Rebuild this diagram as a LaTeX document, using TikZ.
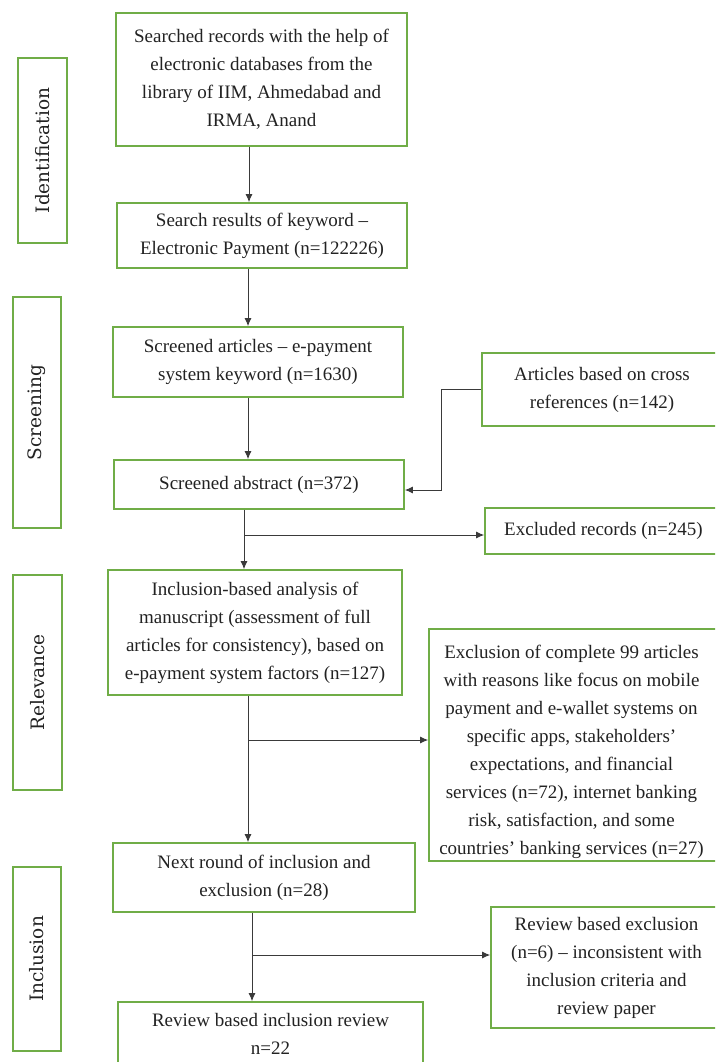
\documentclass[tikz,border=0pt]{standalone}
\usepackage{fontspec}
\setmainfont{Liberation Serif}
\newfontfamily\phasefont{DejaVu Serif}
\usetikzlibrary{arrows.meta,calc}

\definecolor{boxgreen}{HTML}{70AD47}
\definecolor{linegray}{HTML}{3A3A3A}
\definecolor{txt}{HTML}{222222}

\tikzset{
  stagebox/.style={draw=boxgreen, line width=1.6pt, fill=white, align=center,
    text=txt, inner sep=2pt, font=\fontsize{19}{28}\selectfont},
  stagetext/.style={align=center, text=txt, inner sep=0pt, font=\fontsize{19}{28}\selectfont},
  phasebox/.style={draw=boxgreen, line width=1.6pt, fill=white, rotate=90,
    text=txt, inner sep=2pt, font=\phasefont\fontsize{18.5}{22}\selectfont},
  conn/.style={draw=linegray, line width=1pt, -{Latex[length=8pt,width=7pt]}}
}

\begin{document}
\begin{tikzpicture}[x=1pt,y=-1pt]
\clip (0,0) rectangle (715,1062);
\fill[white] (0,0) rectangle (715,1062);

% phase labels on the left
\node[phasebox, minimum width=185pt, minimum height=49pt] (P1) at (42.5,150.5) {Identification};
\node[phasebox, minimum width=231pt, minimum height=48pt] (P2) at (37,412.5) {Screening};
\node[phasebox, minimum width=215pt, minimum height=49pt] (P3) at (37.5,682.5) {Relevance};
\node[phasebox, minimum width=184pt, minimum height=48pt] (P4) at (37,959) {Inclusion};

% main column
\node[stagebox, minimum width=291pt, minimum height=133pt] (A) at (261.5,79.5)
  {Searched records with the help of\\electronic databases from the\\library of IIM, Ahmedabad and\\IRMA, Anand};
\node[stagebox, minimum width=290pt, minimum height=65pt] (B) at (262,235.5)
  {Search results of keyword --\\Electronic Payment (n=122226)};
\node[stagebox, minimum width=290pt, minimum height=70pt] (C) at (258,362)
  {Screened articles -- e-payment\\system keyword (n=1630)};
\node[stagebox, minimum width=290pt, minimum height=49pt] (D) at (259,484.5)
  {Screened abstract (n=372)};
\node[stagebox, minimum width=294pt, minimum height=125pt] (G) at (255,632.5)
  {Inclusion-based analysis of\\manuscript (assessment of full\\articles for consistency), based on\\e-payment system factors (n=127)};
\node[stagebox, minimum width=302pt, minimum height=69pt] (I) at (264,877.5)
  {Next round of inclusion and\\exclusion (n=28)};
\node[stagebox, minimum width=305pt, minimum height=64pt] (K) at (270.5,1034)
  {Review based inclusion review\\n=22};

% side boxes (running off the right edge)
\node[stagebox, minimum width=240pt, minimum height=73pt] (E) at (602,389.5)
  {Articles based on cross\\references (n=142)};
\node[stagebox, minimum width=237pt, minimum height=46pt] (F) at (603.5,531)
  {Excluded records (n=245)};
% the long exclusion list sits low in its frame, its last line on the border
\node[stagebox, minimum width=293pt, minimum height=232pt] (H) at (575.5,745) {};
\node[stagetext] (Ht) at ($(H.center)+(-4,7)$)
  {Exclusion of complete 99 articles\\with reasons like focus on mobile\\payment and e-wallet systems on\\specific apps, stakeholders'\\expectations, and financial\\services (n=72), internet banking\\risk, satisfaction, and some\\countries' banking services (n=27)};
\node[stagebox, minimum width=231pt, minimum height=121pt] (J) at (606.5,967.5)
  {Review based exclusion\\(n=6) -- inconsistent with\\inclusion criteria and\\review paper};

% vertical spines and branch points
\coordinate (s1) at (249,0);
\coordinate (s2) at (248,0);
\coordinate (s3) at (244,0);
\coordinate (s4) at (248,0);
\coordinate (s5) at (252,0);
\coordinate (b1) at (244,535);
\coordinate (b2) at (248,740);
\coordinate (b3) at (252,955);

\draw[conn] (A.south -| s1) -- (B.north -| s1);
\draw[conn] (B.south -| s2) -- (C.north -| s2);
\draw[conn] (C.south -| s2) -- (D.north -| s2);
\draw[conn] (E.west) -- ++(-40,0) |- ($(D.east)+(0,5.5)$);
\draw[conn] (D.south -| s3) -- (G.north -| s3);
\draw[conn] (b1) -- (b1 -| F.west);
\draw[conn] (G.south -| s4) -- (I.north -| s4);
\draw[conn] (b2) -- (b2 -| H.west);
\draw[conn] (I.south -| s5) -- (K.north -| s5);
\draw[conn] (b3) -- (b3 -| J.west);
\end{tikzpicture}
\end{document}
